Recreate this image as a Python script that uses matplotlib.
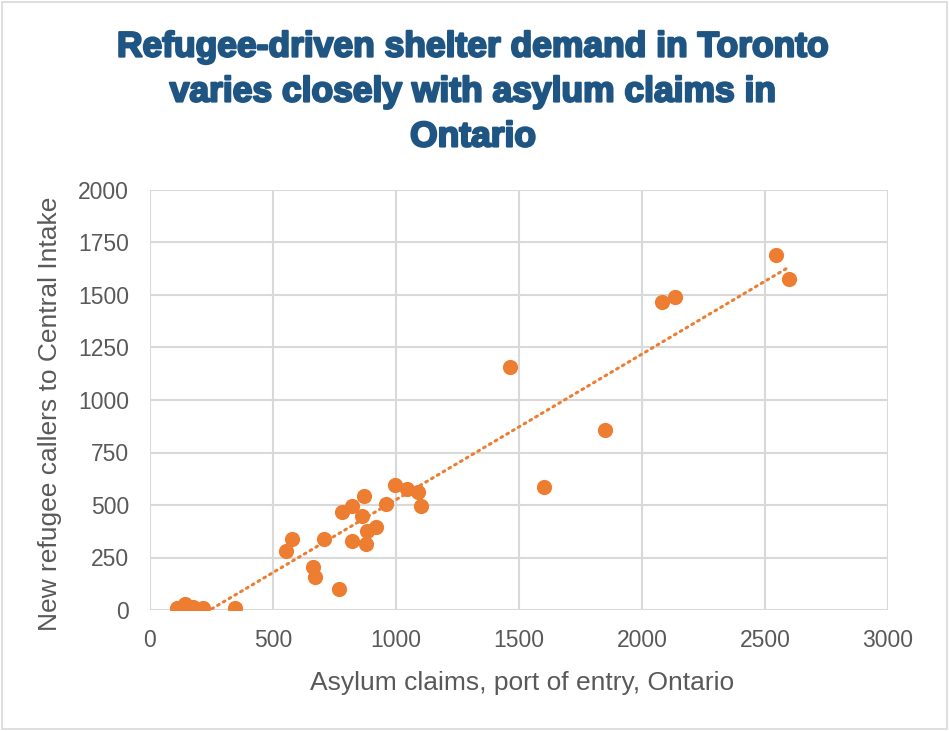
import matplotlib.pyplot as plt
import matplotlib.patheffects as pe
import numpy as np
from matplotlib.patches import Rectangle

# asylum claims (x) vs new refugee callers (y)
claims = [110, 142, 175, 215, 345, 552, 576, 664, 671, 767, 706, 779, 821, 871, 862,
          822, 877, 881, 919, 958, 997, 1043, 1091, 1101, 1463, 1603, 1848, 2080, 2135,
          2545, 2596]
callers = [10, 29, 14, 10, 10, 282, 338, 203, 159, 102, 340, 465, 497, 543, 448,
           330, 313, 376, 397, 506, 594, 575, 563, 497, 1159, 587, 859, 1465, 1490,
           1692, 1576]

orange = '#ED7D31'
grey = '#595959'
plt.rcParams['font.family'] = ['Liberation Sans', 'DejaVu Sans']

fig = plt.figure(figsize=(9.49, 7.31), dpi=100)
ax = fig.add_axes([150 / 949, 1 - 610 / 731, 738 / 949, 420 / 731])

x = np.array(claims)
y = np.array(callers)
k, b = np.polyfit(x, y, 1)
xs = np.linspace(x.min(), x.max(), 200)
ax.plot(xs, k * xs + b, linestyle=(0, (0.6, 1.6)), dash_capstyle='round',
        color=orange, linewidth=2.2, zorder=2)
ax.scatter(x, y, s=120, color=orange, zorder=3, linewidths=0)

ax.set_xlim(0, 3000)
ax.set_ylim(0, 2000)
ax.set_xticks(range(0, 3001, 500))
ax.set_yticks(range(0, 2001, 250))
ax.grid(True, color='#d9d9d9', linewidth=1.5)
ax.set_axisbelow(True)
for s in ax.spines.values():
    s.set_visible(False)
ax.tick_params(length=0, labelsize=16.5, labelcolor=grey)
ax.tick_params(axis='y', pad=15)
ax.tick_params(axis='x', pad=14)
ax.set_xlabel('Asylum claims, port of entry, Ontario', fontsize=19, color=grey)
ax.set_ylabel('New refugee callers to Central Intake', fontsize=19, color=grey)
ax.xaxis.set_label_coords((522 - 150) / 738, -(671 - 610) / 420)
ax.yaxis.set_label_coords(-(150 - 62) / 738, (610 - 414) / 420)

fig.text(473 / 949, 1 - 92 / 731,
         'Refugee-driven shelter demand in Toronto\nvaries closely with asylum claims in\nOntario',
         ha='center', va='center', fontsize=25.5, fontweight='bold', color='#1F5582',
         linespacing=1.46,
         path_effects=[pe.withStroke(linewidth=1.6, foreground='#1F5582')])

fig.patches.append(Rectangle((2 / 949, 2 / 731), 1 - 4 / 949, 1 - 4 / 731,
                             transform=fig.transFigure, fill=False,
                             edgecolor='#d9d9d9', linewidth=1.2))

fig.savefig('out.png', dpi=100)
